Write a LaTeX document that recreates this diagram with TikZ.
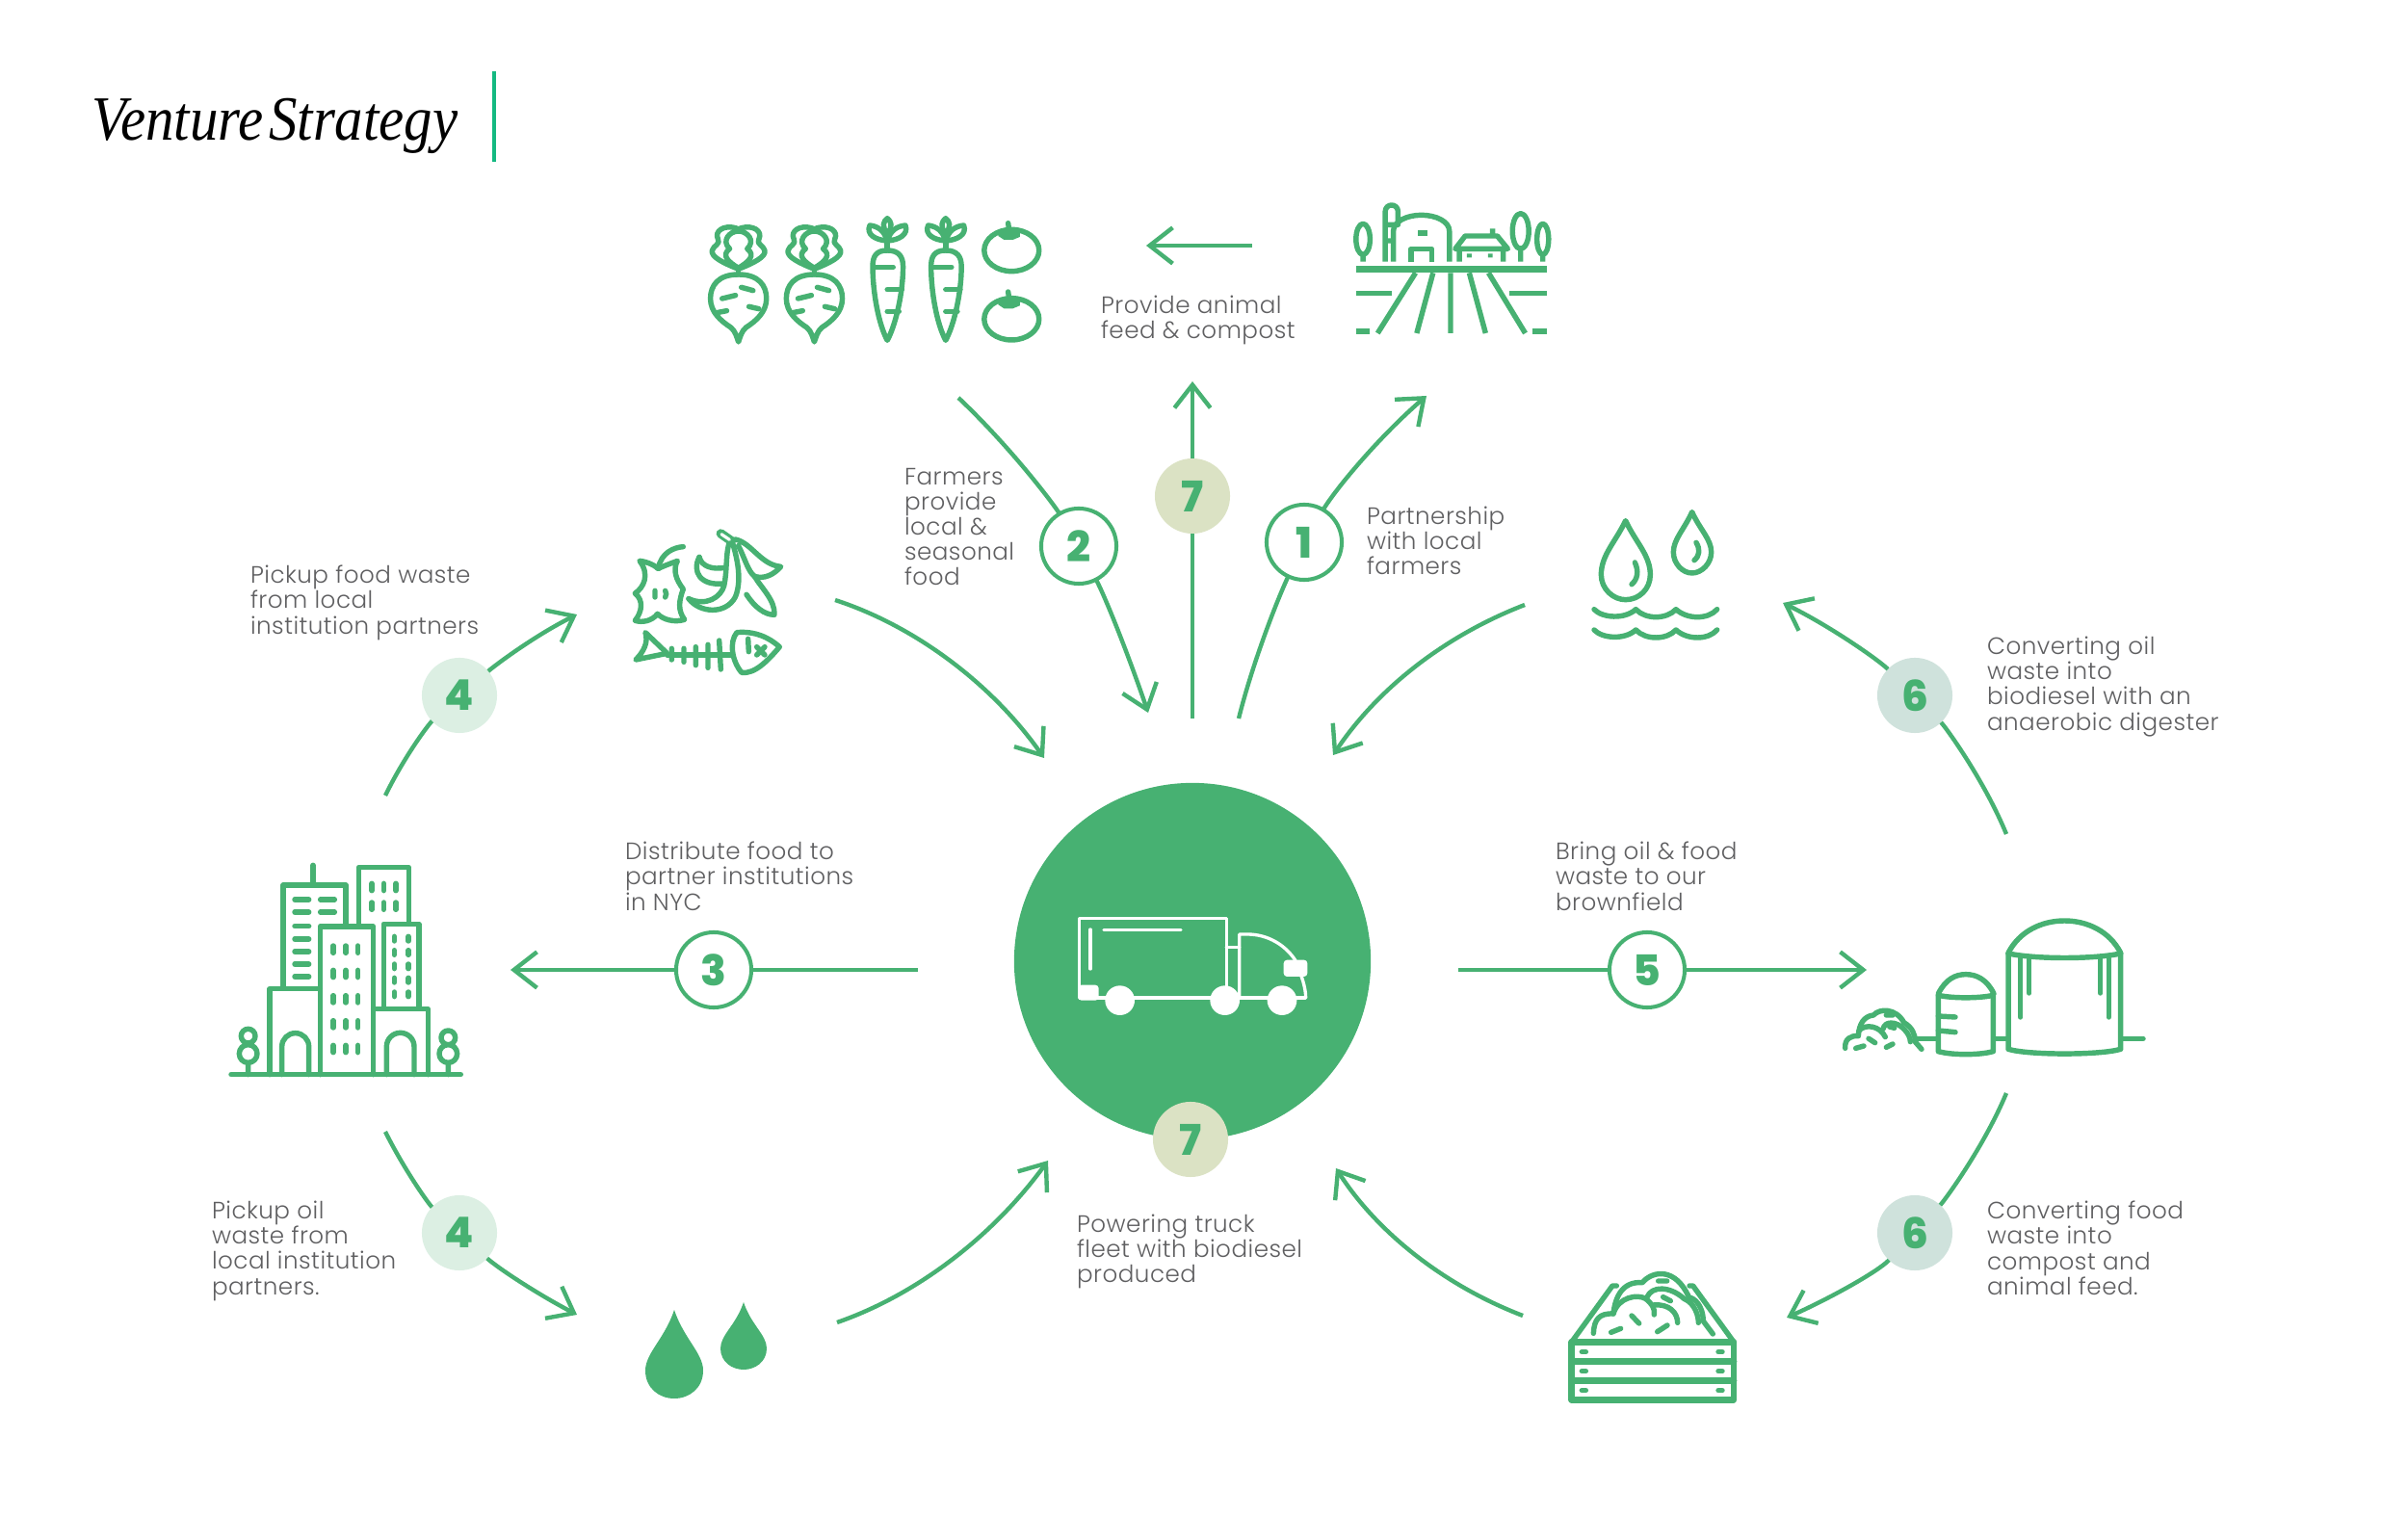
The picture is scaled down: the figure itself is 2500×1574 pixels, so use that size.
\documentclass[tikz,border=0pt]{standalone}
\usepackage{fontspec}
\usetikzlibrary{arrows.meta}
\newfontfamily\lablfont[LetterSpace=2]{Poppins Light}
\newfontfamily\numfont{Poppins ExtraBold}
\newfontfamily\titlefont{Liberation Serif}
\definecolor{gr}{HTML}{47B172}
\definecolor{txt}{HTML}{5F5F61}
\definecolor{rulec}{HTML}{14B981}
\definecolor{bsev}{HTML}{DBE2C4}
\definecolor{bfour}{HTML}{DCEFE3}
\definecolor{bsix}{HTML}{CFE2DC}
\tikzset{
  x=0.01cm,y=-0.01cm,
  ic/.style={draw=gr,line width=1.55pt,line cap=round,line join=round},
  thk/.style={line width=1.9pt},
  wh/.style={draw=white,line width=0.95pt,line cap=round,line join=round},
  conn/.style={draw=gr,line width=1.25pt},
  arr/.style={conn,-{Straight Barb[length=6.8pt,width=10.6pt]}},
  badge/.style={circle,minimum size=22.2pt,inner sep=0pt,outer sep=0pt,font=\numfont\fontsize{12.5}{12.5}\selectfont,text=gr},
  wbadge/.style={badge,draw=gr,line width=1.15pt,fill=white},
  lab/.style={anchor=north west,align=left,inner sep=0pt,outer sep=0pt,text=txt,font=\lablfont\fontsize{7.0}{7.45}\selectfont},
  zoomat/.style 2 args={shift={(#1,#2)},scale=1/3},
  zoomwide/.style 2 args={shift={(#1,#2)},xscale=1/1.65,yscale=1/3},
}
\begin{document}
\begin{tikzpicture}
\useasboundingbox (0,0) rectangle (2500,1574);

% title
\node[anchor=base west,inner sep=0pt,font=\titlefont\itshape\fontsize{18.6}{20}\selectfont] (title) at (95,146) {\scalebox{0.9}[1]{Venture\hspace{0.1em}Strategy}};
\coordinate (ruleT) at (513,74); \coordinate (ruleB) at (513,168);
\draw[draw=rulec,line width=1.1pt] (ruleT) -- (ruleB);

% hub
\node[circle,fill=gr,minimum size=105.3pt,inner sep=0pt,outer sep=0pt] (hub) at (1238,998) {};

% badges
\node[wbadge] (b1) at (1354,563) {1};
\node[wbadge] (b2) at (1120,567) {2};
\node[wbadge] (b3) at (741,1007) {3};
\node[wbadge] (b5) at (1710,1007) {5};
\node[badge,fill=bsev] (b7t) at (1238,515) {7};
\node[badge,fill=bsev] (b7b) at (1236,1183) {7};
\node[badge,fill=bfour] (b4t) at (477,722) {4};
\node[badge,fill=bfour] (b4b) at (477,1280) {4};
\node[badge,fill=bsix] (b6t) at (1988,722) {6};
\node[badge,fill=bsix] (b6b) at (1988,1280) {6};

% free connector ends
\coordinate (aS) at (995,413);  \coordinate (aE) at (1192,740);
\coordinate (bS) at (1238,746); \coordinate (bE) at (1238,396);
\coordinate (cS) at (1286,746); \coordinate (cE) at (1481,411);
\coordinate (dS) at (1583,628); \coordinate (dE) at (1384,784);
\coordinate (eS) at (867,623);  \coordinate (eE) at (1084,787);
\coordinate (fS) at (1514,1007);\coordinate (fE) at (1938,1007);
\coordinate (gS) at (953,1007); \coordinate (gE) at (530,1007);
\coordinate (hS) at (400,826);  \coordinate (hE) at (599,638);
\coordinate (iS) at (400,1175); \coordinate (iE) at (599,1365);
\coordinate (jS) at (869,1373); \coordinate (jE) at (1088,1205);
\coordinate (kS) at (1581,1366);\coordinate (kE) at (1387,1213);
\coordinate (lS) at (2083,1135);\coordinate (lE) at (1855,1368);
\coordinate (mS) at (2083,866); \coordinate (mE) at (1851,626);
\coordinate (nS) at (1300,255); \coordinate (nE) at (1190,255);

% connectors
\draw[conn] (aS) .. controls (1050,465) and (1095,525) .. (b2);
\draw[arr] (b2) .. controls (1150,625) and (1175,690) .. (aE);
\draw[conn] (bS) -- (b7t);
\draw[arr] (b7t) -- (bE);
\draw[conn] (cS) .. controls (1300,690) and (1325,625) .. (b1);
\draw[arr] (b1) .. controls (1385,510) and (1430,455) .. (cE);
\draw[arr] (dS) .. controls (1500,660) and (1430,715) .. (dE);
\draw[arr] (eS) .. controls (950,650) and (1030,710) .. (eE);
\draw[conn] (fS) -- (b5);
\draw[arr] (b5) -- (fE);
\draw[conn] (gS) -- (b3);
\draw[arr] (b3) -- (gE);
\draw[conn] (hS) .. controls (420,785) and (445,752) .. (b4t);
\draw[arr] (b4t) .. controls (515,690) and (555,660) .. (hE);
\draw[conn] (iS) .. controls (420,1215) and (445,1250) .. (b4b);
\draw[arr] (b4b) .. controls (515,1315) and (555,1342) .. (iE);
\draw[arr] (jS) .. controls (950,1345) and (1030,1285) .. (jE);
\draw[arr] (kS) .. controls (1500,1335) and (1430,1280) .. (kE);
\draw[conn] (lS) .. controls (2060,1190) and (2020,1245) .. (b6b);
\draw[arr] (b6b) .. controls (1950,1320) and (1900,1348) .. (lE);
\draw[conn] (mS) .. controls (2060,810) and (2020,755) .. (b6t);
\draw[arr] (b6t) .. controls (1950,685) and (1900,650) .. (mE);
\draw[arr] (nS) -- (nE);

% labels
\node[lab] (t1) at (1143,307) {Provide animal\\feed \& compost};
\node[lab] (t2) at (939,486) {Farmers\\provide\\local \&\\seasonal\\food};
\node[lab] (t3) at (1419,526) {Partnership\\with local\\farmers};
\node[lab] (t4) at (260,587) {Pickup food waste\\from local\\institution partners};
\node[lab] (t5) at (649,874) {Distribute food to\\partner institutions\\in NYC};
\node[lab] (t6) at (1615,874) {Bring oil \& food\\waste to our\\brownfield};
\node[lab] (t7) at (2063,661) {Converting oil\\waste into\\biodiesel with an\\anaerobic digester};
\node[lab] (t8) at (220,1247) {Pickup oil\\waste from\\local institution\\partners.};
\node[lab] (t9) at (1118,1261) {Powering truck\\fleet with biodiesel\\produced};
\node[lab] (t10) at (2063,1247) {Converting food\\waste into\\compost and\\animal feed.};

% truck
\begin{scope}[zoomat={1030}{800}]
  \draw[wh] (730,708) -- (730,460) -- (272,460) -- (272,708) -- (975,708);
  \draw[wh] (306,495) -- (306,618) (348,497) -- (588,497);
  \draw[wh] (730,550) -- (770,550);
  \draw[wh] (770,708) -- (770,510) -- (795,510) .. controls (860,510) and (915,545) .. (945,592);
  \draw[wh] (963,640) .. controls (972,665) and (977,690) .. (977,708);
  \fill[white,rounded corners=1pt] (268,668) rectangle (332,716);
  \fill[white,rounded corners=1pt] (908,590) rectangle (982,642);
  \fill[white] (398,716) circle (46) (725,716) circle (46) (903,716) circle (46);
\end{scope}

% vegetables
\begin{scope}[zoomwide={700}{190}]
  \foreach \dx in {0,130}{
  \begin{scope}[shift={(\dx,0)}]
    \draw[ic] (110,285) .. controls (75,285) and (62,320) .. (62,360) .. controls (62,402) and (80,430) .. (97,450) .. controls (105,462) and (107,480) .. (110,495) .. controls (113,480) and (115,462) .. (123,450) .. controls (140,430) and (158,402) .. (158,360) .. controls (158,320) and (145,285) .. (110,285) -- cycle;
    \draw[ic] (115,325) -- (135,335) (82,360) -- (105,350) (128,385) -- (145,392) (70,405) -- (90,398);
    \draw[ic] (110,268) -- (110,285);
    \draw[ic] (110,268) .. controls (85,250) and (62,230) .. (65,210) .. controls (67,195) and (80,190) .. (75,175) .. controls (68,150) and (85,130) .. (105,140) .. controls (110,145) and (110,145) .. (115,140) .. controls (135,130) and (152,150) .. (145,175) .. controls (140,190) and (153,195) .. (155,210) .. controls (158,230) and (135,250) .. (110,268) -- cycle;
    \draw[ic] (110,265) .. controls (92,245) and (80,225) .. (95,205) .. controls (80,180) and (95,150) .. (110,150) .. controls (125,150) and (140,180) .. (125,205) .. controls (140,225) and (128,245) .. (110,265) -- cycle;
  \end{scope}}
  \foreach \dx in {0,100}{
  \begin{scope}[shift={(\dx,0)}]
    \draw[ic] (365,210) .. controls (345,210) and (340,230) .. (340,260) .. controls (340,340) and (350,440) .. (365,490) .. controls (380,440) and (392,340) .. (392,260) .. controls (392,230) and (385,210) .. (365,210) -- cycle;
    \draw[ic] (342,262) -- (375,262) (365,332) -- (390,332) (365,400) -- (385,400) (365,182) -- (365,210);
    \draw[ic] (365,180) .. controls (345,178) and (328,160) .. (335,132) .. controls (350,135) and (360,150) .. (365,180) -- cycle;
    \draw[ic] (365,180) .. controls (385,178) and (402,160) .. (396,132) .. controls (380,135) and (370,150) .. (365,180) -- cycle;
    \draw[ic] (365,158) .. controls (355,135) and (358,120) .. (365,110) .. controls (372,120) and (375,135) .. (365,158);
  \end{scope}}
  \foreach \dy in {0,214}{
  \begin{scope}[shift={(0,\dy)}]
    \draw[ic] (578,210) ellipse (47 and 65);
    \draw[ic] (572,125) -- (574,150);
    \fill[gr] (555,148) -- (592,148) -- (592,168) -- (580,177) -- (565,177) -- (555,165) -- cycle;
  \end{scope}}
  % farm
  \draw[ic,thk,line cap=butt] (1168,268) -- (1495,268);
  \draw[ic,line cap=butt] (1270,280) -- (1205,468) (1300,280) -- (1272,468) (1330,280) -- (1330,468) (1362,280) -- (1390,468) (1395,280) -- (1458,468);
  \draw[ic,line cap=butt] (1168,343) -- (1230,343) (1430,343) -- (1495,343) (1168,462) -- (1192,462) (1470,462) -- (1495,462);
  \draw[ic,line cap=butt] (1232,245) -- (1232,150) .. controls (1232,120) and (1255,100) .. (1280,100) .. controls (1305,100) and (1328,120) .. (1328,150) -- (1328,245);
  \draw[ic,line cap=butt] (1262,245) -- (1262,205) -- (1298,205) -- (1298,245);
  \fill[gr] (1274,148) rectangle (1290,165);
  \draw[ic,line cap=butt] (1180,175) ellipse (12 and 48) (1180,223) -- (1180,245);
  \draw[ic,line cap=butt] (1450,150) ellipse (14 and 55) (1450,205) -- (1450,245);
  \draw[ic,line cap=butt] (1488,175) ellipse (10 and 48) (1488,223) -- (1488,245);
  \draw[ic,line cap=butt] (1218,245) -- (1218,90) .. controls (1218,62) and (1240,62) .. (1240,90) -- (1240,130) -- (1218,130) (1218,180) -- (1232,180);
  \draw[ic,line cap=butt] (1338,205) -- (1428,205) -- (1410,165) -- (1355,165) -- cycle (1345,205) -- (1345,245) (1420,205) -- (1420,245) (1402,142) -- (1402,165);
  \fill[gr] (1358,220) rectangle (1366,232) (1394,220) rectangle (1402,232);
\end{scope}

% food waste
\begin{scope}[zoomat={620}{530}]
  \draw[ic] (190,180) .. controls (200,130) and (240,115) .. (268,113);
  \draw[ic] (132,157) .. controls (160,160) and (185,175) .. (190,182) .. controls (200,175) and (230,165) .. (250,157) .. controls (235,185) and (245,215) .. (268,245) .. controls (255,280) and (250,310) .. (272,340) .. controls (240,350) and (205,340) .. (188,322) .. controls (170,345) and (140,350) .. (118,343) .. controls (140,315) and (145,280) .. (118,258) .. controls (145,240) and (165,200) .. (132,157) -- cycle;
  \draw[ic] (180,250) -- (180,270) (212,250) .. controls (216,257) and (216,263) .. (212,270);
  \draw[ic] (285,275) .. controls (320,320) and (400,325) .. (430,270) .. controls (455,210) and (430,130) .. (420,95);
  \draw[ic] (285,275) .. controls (340,300) and (385,270) .. (395,235) .. controls (405,190) and (400,140) .. (410,105);
  \draw[ic] (318,145) .. controls (325,175) and (360,185) .. (398,178);
  \draw[ic] (318,145) .. controls (295,190) and (320,235) .. (393,228);
  \draw[ic] (430,90) .. controls (480,100) and (510,170) .. (572,175) .. controls (550,200) and (520,215) .. (490,205) .. controls (470,190) and (460,150) .. (440,110);
  \draw[ic] (465,262) .. controls (490,300) and (520,325) .. (552,325) .. controls (555,280) and (510,240) .. (490,205);
  \draw[draw=gr,line width=2.7pt,line cap=round] (385,72) -- (418,95);
  \draw[draw=white,line width=0.9pt,line cap=round] (387,74) -- (412,91);
  \draw[ic] (150,380) -- (218,445) -- (120,465) .. controls (145,440) and (160,410) .. (150,380) -- cycle;
  \draw[ic] (218,450) -- (420,450);
  \draw[ic] (232,430) -- (232,465) (270,430) -- (270,472) (307,425) -- (307,482) (345,418) -- (345,490) (380,405) -- (385,495);
  \draw[ic] (435,380) .. controls (490,375) and (535,395) .. (568,425) .. controls (530,470) and (490,510) .. (450,505) .. controls (420,470) and (410,410) .. (435,380) -- cycle;
  \draw[ic] (470,400) -- (472,440) (497,425) -- (522,450) (522,425) -- (497,450);
\end{scope}

% water
\begin{scope}[zoomat={1620}{510}]
  \draw[ic] (203,92) .. controls (170,160) and (127,200) .. (127,260) .. controls (127,305) and (165,338) .. (203,338) .. controls (245,338) and (280,305) .. (280,260) .. controls (280,200) and (235,160) .. (203,92) -- cycle;
  \draw[ic] (232,222) .. controls (245,250) and (240,275) .. (222,290);
  \draw[ic] (410,65) .. controls (385,120) and (352,150) .. (352,190) .. controls (352,225) and (380,255) .. (410,255) .. controls (440,255) and (470,225) .. (470,190) .. controls (470,150) and (435,120) .. (410,65) -- cycle;
  \draw[ic] (423,160) .. controls (435,180) and (435,200) .. (417,215);
  \foreach \wy in {0,64}{
    \draw[ic,shift={(0,\wy)}] (105,368) .. controls (130,395) and (200,400) .. (235,368) .. controls (265,400) and (330,400) .. (360,368) .. controls (395,400) and (460,400) .. (488,368);
  }
\end{scope}

% city
\begin{scope}[zoomat={200}{870}]
  \draw[ic] (120,737) -- (835,737);
  \draw[ic] (282,465) -- (282,147) -- (477,147) -- (477,268) (375,85) -- (375,147);
  \draw[ic] (517,268) -- (517,92) -- (673,92) -- (673,268);
  \draw[ic] (397,737) -- (397,276) -- (563,276) -- (563,737);
  \draw[ic] (595,530) -- (595,268) -- (705,268) -- (705,530);
  \draw[ic] (240,737) -- (240,470) -- (397,470);
  \draw[ic] (563,533) -- (733,533) -- (733,737);
  \draw[ic] (278,737) -- (278,650) arc (180:360:42) -- (362,737);
  \draw[ic] (604,737) -- (604,650) arc (180:360:43) -- (690,737);
  \foreach \wy in {192,231,275,315,354,393,432} \draw[ic] (318,\wy) -- (362,\wy);
  \foreach \wy in {192,231} \draw[ic] (398,\wy) -- (442,\wy);
  \foreach \wx in {558,595,633} \foreach \wy in {153,212} \draw[ic] (\wx,\wy-11) -- (\wx,\wy+11);
  \foreach \wx in {438,477,515} \foreach \wy in {347,423,502,580,657} \draw[ic] (\wx,\wy-11) -- (\wx,\wy+11);
  \foreach \wx in {628,672} \foreach \wy in {314,357,400,443,487} \draw[ic] (\wx,\wy-7) -- (\wx,\wy+7);
  \draw[ic] (173,617) circle (22) (173,672) circle (28) (173,700) -- (173,737);
  \draw[ic] (796,622) circle (22) (796,672) circle (28) (796,700) -- (796,737);
\end{scope}

% biogas
\begin{scope}[zoomat={1880}{930}]
  \draw[ic] (330,445) -- (395,445) (575,445) -- (615,445) (968,445) -- (1035,445);
  \draw[ic] (397,310) -- (397,485) .. controls (440,497) and (525,497) .. (568,485) -- (568,310);
  \draw[ic] (397,305) .. controls (420,260) and (450,245) .. (483,245) .. controls (515,245) and (548,260) .. (570,305);
  \draw[ic] (397,310) .. controls (440,320) and (525,320) .. (568,310);
  \draw[ic] (397,375) -- (450,378) (397,420) -- (450,425);
  \draw[ic] (615,180) -- (615,478) .. controls (680,497) and (900,497) .. (965,478) -- (965,180);
  \draw[ic] (615,178) .. controls (650,110) and (720,78) .. (790,78) .. controls (860,78) and (930,110) .. (965,178);
  \draw[ic] (615,180) .. controls (700,198) and (880,198) .. (965,180);
  \draw[ic] (653,195) -- (653,378) (680,197) -- (680,303) (902,197) -- (902,303) (928,195) -- (928,378);
  \draw[ic] (107,475) .. controls (105,445) and (125,435) .. (148,437) .. controls (150,400) and (165,375) .. (195,372) .. controls (215,350) and (265,350) .. (290,395) .. controls (315,410) and (325,430) .. (325,455) -- (345,478);
  \draw[ic] (150,420) .. controls (170,398) and (215,405) .. (232,440);
  \draw[ic] (225,415) .. controls (230,390) and (265,390) .. (290,415) .. controls (305,430) and (310,445) .. (310,455);
  \draw[ic] (235,372) -- (255,372) (245,408) -- (260,412) (140,475) -- (165,468) (180,445) -- (200,458) (235,472) -- (255,462);
\end{scope}

% oil drops
\fill[gr] (700,1360) .. controls (690,1390) and (670,1405) .. (670,1423) .. controls (670,1441) and (684,1452) .. (700,1452) .. controls (716,1452) and (730,1441) .. (730,1423) .. controls (730,1405) and (710,1390) .. (700,1360) -- cycle;
\fill[gr] (772,1352) .. controls (764,1376) and (748,1386) .. (748,1400) .. controls (748,1414) and (760,1422) .. (772,1422) .. controls (784,1422) and (796,1414) .. (796,1400) .. controls (796,1386) and (780,1376) .. (772,1352) -- cycle;

% crate
\begin{scope}[zoomat={1600}{1290}]
  \draw[ic,thk] (95,310) rectangle (600,490) (95,370) -- (600,370) (95,430) -- (600,430);
  \draw[ic] (95,310) -- (222,135) -- (235,135) (600,310) -- (473,135) -- (462,135);
  \foreach \wy in {341,401,461} \foreach \wx in {133,558} \draw[ic] (\wx-6,\wy) -- (\wx+6,\wy);
  \draw[ic] (163,283) .. controls (165,240) and (180,220) .. (225,222) .. controls (230,175) and (250,120) .. (315,125) .. controls (350,85) and (420,80) .. (460,170) .. controls (495,180) and (505,220) .. (505,245) -- (535,285);
  \draw[ic] (225,222) .. controls (240,170) and (300,160) .. (325,175) .. controls (345,190) and (355,205) .. (352,225);
  \draw[ic] (330,170) .. controls (345,135) and (400,135) .. (445,175) .. controls (480,190) and (490,230) .. (490,250);
  \draw[ic] (350,195) .. controls (400,190) and (425,220) .. (425,250);
  \draw[ic] (365,120) -- (392,120) (380,170) -- (403,182) (282,228) -- (305,252) (218,280) -- (248,268) (362,278) -- (393,258);
\end{scope}
\end{tikzpicture}
\end{document}
